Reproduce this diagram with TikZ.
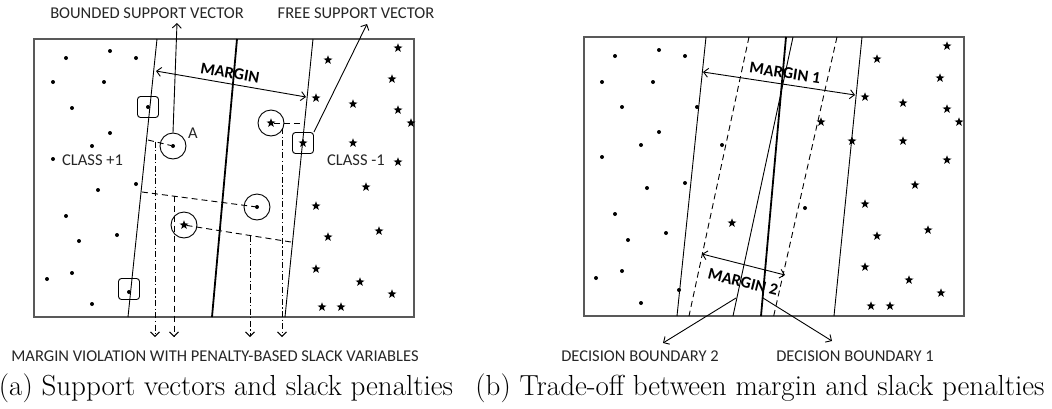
\documentclass[tikz,border=0pt]{standalone}
\usepackage{fontspec}
\newfontfamily\lab{Carlito}
\usetikzlibrary{arrows.meta,shapes.geometric}
\begin{document}
\begin{tikzpicture}[x=1pt,y=-1pt,
  pdot/.style={circle,fill,inner sep=0pt,minimum size=4pt},
  pstar/.style={star,star points=5,star point ratio=2.5,fill,inner sep=0pt,minimum size=9.5pt},
  lbl/.style={font=\lab\fontsize{16.5}{18}\selectfont,inner sep=0pt,text=black!85},
  blbl/.style={font=\lab\bfseries\fontsize{16.5}{18}\selectfont,inner sep=0pt},
  captxt/.style={font=\fontsize{29}{32}\selectfont,inner sep=0pt},
  frm/.style={draw=black!65,line width=1.3pt},
  thinln/.style={line width=0.9pt},
  thickln/.style={line width=1.8pt},
  dashln/.style={line width=0.9pt,dash pattern=on 6pt off 4pt},
  dsdot/.style={line width=0.9pt,dash pattern=on 6pt off 2.5pt on 1.2pt off 2.5pt},
  atip/.style={-{Straight Barb[length=4.5pt,width=9pt]}},
  dtip/.style={{Straight Barb[length=4.5pt,width=9pt]}-{Straight Barb[length=4.5pt,width=9pt]}},
  ring/.style={circle,draw,line width=0.9pt,minimum size=26pt,inner sep=0pt},
  sqbox/.style={draw,rounded corners=3pt,line width=0.9pt,minimum size=21pt,inner sep=0pt}
]
\useasboundingbox (0,0) rectangle (1052,408);

% ================= LEFT PANEL =================
\node[frm,minimum width=380pt,minimum height=278pt,inner sep=0pt] (boxL) at (224,178) {};

\coordinate (lmT) at (157,39); \coordinate (lmB) at (128,317);
\coordinate (dbT) at (237,39); \coordinate (dbB) at (212,317);
\coordinate (rmT) at (313,39); \coordinate (rmB) at (285,317);
\draw[thinln] (lmT) -- (lmB);
\draw[thickln] (dbT) -- (dbB);
\draw[thinln] (rmT) -- (rmB);

\coordinate (mgL) at (156,71); \coordinate (mgR) at (306,97);
\draw[thinln,dtip] (mgL) -- (mgR);
\node[blbl,rotate=-9.8] (mgLab) at (230,73) {MARGIN};

\foreach \p/\n in {{(66,58)}/1,{(110,51)}/2,{(136,58)}/3,{(53,82)}/4,{(104,82)}/5,{(72,108)}/6,{(110,133)}/7,{(92,146)}/8,{(53,159)}/9,
  {(136,184)}/10,{(98,190)}/11,{(66,216)}/12,{(117,235)}/13,{(79,241)}/14,{(72,273)}/15,{(47,279)}/16,{(92,304)}/17}
  \node[pdot] (pL\n) at \p {};
\node[pdot] (pLb1) at (148,107) {};
\node[pdot] (pLb2) at (129,292) {};
\node[sqbox] (sqL1) at (148,107) {};
\node[sqbox] (sqL2) at (129,289) {};

\foreach \p/\n in {{(398,48)}/1,{(328,60)}/2,{(392,79)}/3,{(316,98)}/4,{(353,104)}/5,{(398,110)}/6,{(411,123)}/7,{(353,143)}/8,{(398,162)}/9,
  {(366,187)}/10,{(316,206)}/11,{(379,231)}/12,{(328,237)}/13,{(316,269)}/14,{(360,282)}/15,{(392,294)}/16,{(322,307)}/17,{(341,307)}/18}
  \node[pstar] (sL\n) at \p {};
\node[pstar] (sLb) at (303,143) {};
\node[sqbox] (sqL3) at (303,143) {};

\node[lbl,anchor=west] (cp1) at (62,160) {CLASS +1};
\node[lbl,anchor=west] (cm1) at (327,160) {CLASS -1};

\node[pdot] (dA) at (173,146) {};
\node[ring] (cA) at (173,146) {};
\node[lbl] (labA) at (193,133) {A};
\node[pstar] (sB) at (271,123) {};
\node[ring] (cB) at (271,123) {};
\node[pdot] (dC) at (257,207) {};
\node[ring] (cC) at (257,207) {};
\node[pstar] (sD) at (184,225) {};
\node[ring] (cD) at (184,225) {};

\coordinate (aL) at (148,140);
\draw[dashln] (aL) -- (dA);
\coordinate (bR) at (304,123);
\draw[dashln] (sB) -- (bR);
\coordinate (cL) at (142,192);
\draw[dashln] (cL) -- (dC);
\coordinate (dR) at (291,242);
\draw[dashln] (sD) -- (dR);

\coordinate (v1T) at (155,141.5); \coordinate (v1B) at (155,337);
\coordinate (v2T) at (174,195.5); \coordinate (v2B) at (174,337);
\coordinate (v3T) at (250,235.5); \coordinate (v3B) at (250,337);
\coordinate (v4T) at (282,128); \coordinate (v4B) at (282,337);
\draw[dsdot,atip] (v1T) -- (v1B);
\draw[dashln,atip] (v2T) -- (v2B);
\draw[dsdot,atip] (v3T) -- (v3B);
\draw[dsdot,atip] (v4T) -- (v4B);

\node[lbl] (bsv) at (147,13) {BOUNDED SUPPORT VECTOR};
\node[lbl] (fsv) at (356,13) {FREE SUPPORT VECTOR};
\coordinate (bsvTip) at (177,23);
\coordinate (fsvTip) at (367,24);
\draw[thinln,atip] (cA.north) -- (bsvTip);
\draw[thinln,atip] (sqL3.north east) -- (fsvTip);

\node[lbl] (mv) at (215,356) {MARGIN VIOLATION WITH PENALTY-BASED SLACK VARIABLES};

% ================= RIGHT PANEL =================
\node[frm,minimum width=380pt,minimum height=279pt,inner sep=0pt] (boxR) at (774,176.5) {};

\coordinate (m1lT) at (706,37); \coordinate (m1lB) at (677,316);
\coordinate (m2lT) at (749,37); \coordinate (m2lB) at (689,316);
\coordinate (d1T) at (786,37); \coordinate (d1B) at (761,316);
\coordinate (d2T) at (793,37); \coordinate (d2B) at (733,316);
\coordinate (m2rT) at (837,37); \coordinate (m2rB) at (773,319);
\coordinate (m1rT) at (862,37); \coordinate (m1rB) at (834,316);
\draw[thinln] (m1lT) -- (m1lB);
\draw[dashln] (m2lT) -- (m2lB);
\draw[thickln] (d1T) -- (d1B);
\draw[thinln] (d2T) -- (d2B);
\draw[dashln] (m2rT) -- (m2rB);
\draw[thinln] (m1rT) -- (m1rB);

\foreach \p/\n in {{(615,56)}/1,{(659,50)}/2,{(685,56)}/3,{(602,82)}/4,{(653,82)}/5,{(622,107)}/6,{(697,107)}/7,{(659,132)}/8,{(641,145)}/9,
  {(722,145)}/10,{(602,157)}/11,{(685,183)}/12,{(647,188)}/13,{(615,214)}/14,{(666,233)}/15,{(628,240)}/16,{(622,271)}/17,{(596,278)}/18,
  {(679,290)}/19,{(641,303)}/20,{(805,208)}/21}
  \node[pdot] (pR\n) at \p {};
\foreach \p/\n in {{(947,46)}/1,{(877,59)}/2,{(940,78)}/3,{(865,97)}/4,{(903,103)}/5,{(947,109)}/6,{(959,122)}/7,{(821,122)}/8,{(852,141)}/9,
  {(903,141)}/10,{(947,160)}/11,{(915,185)}/12,{(865,204)}/13,{(928,230)}/14,{(877,236)}/15,{(865,267)}/16,{(909,280)}/17,{(941,293)}/18,
  {(871,306)}/19,{(890,306)}/20,{(732,223)}/21}
  \node[pstar] (sR\n) at \p {};

\coordinate (mg1L) at (703,72); \coordinate (mg1R) at (855,95);
\draw[thinln,dtip] (mg1L) -- (mg1R);
\node[blbl,rotate=-8.6] (mg1Lab) at (785,73) {MARGIN 1};
\coordinate (mg2L) at (702,254); \coordinate (mg2R) at (785,275);
\draw[thinln,dtip] (mg2L) -- (mg2R);
\node[blbl,rotate=-14] (mg2Lab) at (743,282) {MARGIN 2};

\node[lbl] (db2) at (640,356) {DECISION BOUNDARY 2};
\node[lbl] (db1) at (855,356) {DECISION BOUNDARY 1};
\coordinate (db2S) at (736,298); \coordinate (db2T) at (663,343);
\coordinate (db1S) at (763,298); \coordinate (db1T) at (832,341);
\draw[thinln,atip] (db2S) -- (db2T);
\draw[thinln,atip] (db1S) -- (db1T);

\node[captxt] (capA) at (226,388) {(a) Support vectors and slack penalties};
\node[captxt] (capB) at (760,388) {(b) Trade-off between margin and slack penalties};
\end{tikzpicture}
\end{document}
